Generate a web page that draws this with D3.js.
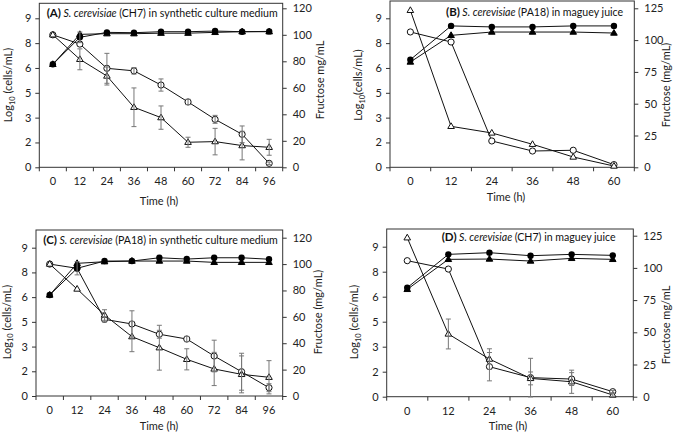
<!DOCTYPE html>
<html><head><meta charset="utf-8">
<script src="https://cdn.jsdelivr.net/npm/d3@7"></script>
<style>body{margin:0;background:#fff}svg{display:block}</style>
</head><body>
<svg id="c" width="677" height="433"></svg>
<script>
// ---------- DATA ----------
const times96 = [0, 12, 24, 36, 48, 60, 72, 84, 96];
const times60 = [0, 12, 24, 36, 48, 60];
const leftTickValues = [0, 1.5, 3, 4.5, 6, 7.5, 9];
const leftTickLabels = ["0", "2", "3", "5", "6", "8", "9"];
const rightTicks120 = [0, 20, 40, 60, 80, 100, 120];
const rightTicks125 = [0, 25, 50, 75, 100, 125];

// Panel A: S. cerevisiae (CH7) in synthetic culture medium
const A_cellsCircle = [6.22, 7.85, 8.15, 8.13, 8.19, 8.19, 8.23, 8.19, 8.21];
const A_cellsCircleErr = [0, 0.32, 0, 0, 0, 0, 0, 0, 0];
const A_cellsTri = [6.22, 8.03, 8.07, 8.07, 8.10, 8.10, 8.15, 8.19, 8.19];
const A_fruCircle = [100, 93, 74.7, 72.8, 62.1, 49.3, 36.2, 24.9, 3.0];
const A_fruCircleErr = [0, 0, 11.3, 2.5, 4.6, 2, 3, 6.3, 1];
const A_fruTri = [100, 81.5, 68.9, 45.3, 37.5, 18.9, 19.4, 16.4, 15.1];
const A_fruTriErr = [0, 7.9, 6.8, 14.6, 8.8, 3.8, 10, 10.8, 6];

// Panel B: S. cerevisiae (PA18) in maguey juice
const B_cellsCircle = [6.50, 8.54, 8.48, 8.48, 8.54, 8.54];
const B_cellsTri = [6.36, 7.97, 8.17, 8.17, 8.17, 8.11];
const B_fruCircle = [106.4, 98.5, 20.7, 12.8, 13.4, 2.1];
const B_fruTri = [123.4, 32.2, 27.0, 18.1, 8.1, 1.0];

// Panel C: S. cerevisiae (PA18) in synthetic culture medium
const C_cellsCircle = [6.13, 7.75, 8.19, 8.19, 8.39, 8.31, 8.39, 8.39, 8.30];
const C_cellsCircleErr = [0, 0.4, 0, 0, 0, 0, 0, 0, 0];
const C_cellsTri = [6.13, 8.05, 8.15, 8.19, 8.19, 8.19, 8.11, 8.11, 8.11];
const C_fruCircle = [100, 96.8, 58.1, 54.6, 46.8, 43.2, 30.3, 18.4, 6.3];
const C_fruCircleErr = [0, 0, 2, 10, 3, 2, 12, 14, 3];
const C_fruTri = [100, 81.1, 61.4, 45, 36.6, 27.8, 20.5, 16.4, 14.2];
const C_fruTriErr = [0, 0, 4, 11.4, 17, 8, 12.6, 14, 12.6];

// Panel D: S. cerevisiae (CH7) in maguey juice
const D_cellsCircle = [6.54, 8.54, 8.64, 8.46, 8.54, 8.48];
const D_cellsTri = [6.44, 8.24, 8.26, 8.14, 8.30, 8.24];
const D_fruCircle = [105.6, 99.1, 23.3, 14.8, 13.7, 3.9];
const D_fruCircleErr = [0, 0, 11, 15, 5, 1];
const D_fruTri = [123.4, 48.7, 29.2, 14.2, 11.6, 1.3];
const D_fruTriErr = [0, 11.6, 8, 5, 9, 1];

// ---------- DRAW ----------
const svg = d3.select("#c");
const FONT = "Lato, 'Open Sans', sans-serif";
const AX = "#333";

const panels = [
  { id: "(A)", strain: "(CH7) in synthetic culture medium", times: times96,
    cC: A_cellsCircle, cCe: A_cellsCircleErr, cT: A_cellsTri, fC: A_fruCircle, fCe: A_fruCircleErr, fT: A_fruTri, fTe: A_fruTriErr,
    rTicks: rightTicks120, rMax: 120,
    box: { l: 39.3, r: 282.7, t: 3.3, b: 167.3, l9: 18.3, rTop: 8.3 },
    title: { x: 46.7, y: 17 }, leftLabel: { x: 12, y: 85, text: " (cells/mL)" },
    rightLabel: { x: 324, y: 80, text: "Fructose mg/mL" }, xLabel: { x: 159, y: 205 } },
  { id: "(B)", strain: "(PA18) in maguey juice", times: times60,
    cC: B_cellsCircle, cT: B_cellsTri, fC: B_fruCircle, fT: B_fruTri,
    rTicks: rightTicks125, rMax: 125,
    box: { l: 390, r: 634.3, t: 1, b: 167.3, l9: 18.3, rTop: 8.3 },
    title: { x: 446, y: 15.5 }, leftLabel: { x: 362, y: 85, text: "(cells/mL)" },
    rightLabel: { x: 670, y: 85, text: "Fructose (mg/mL)" }, xLabel: { x: 506, y: 201 } },
  { id: "(C)", strain: "(PA18) in synthetic culture medium", times: times96,
    cC: C_cellsCircle, cCe: C_cellsCircleErr, cT: C_cellsTri, fC: C_fruCircle, fCe: C_fruCircleErr, fT: C_fruTri, fTe: C_fruTriErr,
    rTicks: rightTicks120, rMax: 120,
    box: { l: 36, r: 282.7, t: 230, b: 396, l9: 247.7, rTop: 237.7 },
    title: { x: 43.3, y: 244 }, leftLabel: { x: 10.5, y: 322, text: " (cells/mL)" },
    rightLabel: { x: 322, y: 312, text: "Fructose (mg/mL)" }, xLabel: { x: 159, y: 430 } },
  { id: "(D)", strain: "(CH7) in maguey juice", times: times60,
    cC: D_cellsCircle, cT: D_cellsTri, fC: D_fruCircle, fCe: D_fruCircleErr, fT: D_fruTri, fTe: D_fruTriErr,
    rTicks: rightTicks125, rMax: 125,
    box: { l: 386.7, r: 633.3, t: 229, b: 396.7, l9: 246.7, rTop: 235.7 },
    title: { x: 441.7, y: 241 }, leftLabel: { x: 358, y: 322, text: " (cells/mL)" },
    rightLabel: { x: 670, y: 325, text: "Fructose mg/mL" }, xLabel: { x: 508, y: 430 } }
];

function triPath(cx, cy) {
  const s = 6.6, h = 5.7;
  return `M${cx},${cy - h * 0.62}L${cx + s / 2},${cy + h * 0.38}L${cx - s / 2},${cy + h * 0.38}Z`;
}

panels.forEach(p => {
  const b = p.box;
  const g = svg.append("g");
  const x = d3.scaleBand().domain(p.times).range([b.l, b.r]);
  const xc = t => x(t) + x.bandwidth() / 2;
  const yL = d3.scaleLinear().domain([0, 9]).range([b.b, b.l9]);
  const yR = d3.scaleLinear().domain([0, p.rMax]).range([b.b, b.rTop]);

  // plot box
  g.append("rect").attr("x", b.l).attr("y", b.t).attr("width", b.r - b.l).attr("height", b.b - b.t)
    .attr("fill", "none").attr("stroke", AX).attr("stroke-width", 1);

  // x axis ticks at category boundaries
  const bounds = p.times.map(t => x(t)).concat([b.r]);
  g.selectAll(".xt").data(bounds).enter().append("line")
    .attr("x1", d => d).attr("x2", d => d).attr("y1", b.b).attr("y2", b.b + 4).attr("stroke", AX);
  g.selectAll(".xl").data(p.times).enter().append("text")
    .attr("x", d => xc(d)).attr("y", b.b + 18).attr("text-anchor", "middle")
    .attr("font-family", FONT).attr("font-size", 11).attr("fill", "#222").text(d => d);

  // left axis
  const la = d3.axisLeft(yL).tickValues(leftTickValues).tickSize(4).tickPadding(4)
    .tickFormat((d, i) => leftTickLabels[i]);
  const lg = g.append("g").attr("transform", `translate(${b.l},0)`).call(la);
  lg.select(".domain").remove();
  lg.selectAll("line").attr("stroke", AX);
  lg.selectAll("text").attr("font-family", FONT).attr("font-size", 11).attr("fill", "#222");

  // right axis
  const ra = d3.axisRight(yR).tickValues(p.rTicks).tickSize(4).tickPadding(6);
  const rg = g.append("g").attr("transform", `translate(${b.r},0)`).call(ra);
  rg.select(".domain").remove();
  rg.selectAll("line").attr("stroke", AX);
  rg.selectAll("text").attr("font-family", FONT).attr("font-size", 11).attr("fill", "#222");

  // lines
  const line = (ys, yv) => d3.line().x((d, i) => xc(p.times[i])).y(d => ys(d))(yv);
  [[yR, p.fC], [yR, p.fT], [yL, p.cT], [yL, p.cC]].forEach(([ys, v]) => {
    g.append("path").attr("d", line(ys, v)).attr("fill", "none").attr("stroke", "#111").attr("stroke-width", 1);
  });

  // error bars
  function errBars(ys, v, e) {
    if (!e) return;
    v.forEach((d, i) => {
      if (!e[i]) return;
      const cx = xc(p.times[i]);
      const y1 = ys(d - e[i]), y2 = ys(d + e[i]);
      g.append("line").attr("x1", cx).attr("x2", cx).attr("y1", y1).attr("y2", y2).attr("stroke", "#777").attr("stroke-width", 1);
      [y1, y2].forEach(yy => g.append("line").attr("x1", cx - 2.5).attr("x2", cx + 2.5).attr("y1", yy).attr("y2", yy).attr("stroke", "#777"));
    });
  }

  // markers
  g.selectAll(null).data(p.fC).enter().append("circle")
    .attr("cx", (d, i) => xc(p.times[i])).attr("cy", d => yR(d)).attr("r", 3.1)
    .attr("fill", "#fff").attr("stroke", "#111").attr("stroke-width", 1);
  g.selectAll(null).data(p.fT).enter().append("path")
    .attr("d", (d, i) => triPath(xc(p.times[i]), yR(d)))
    .attr("fill", "#fff").attr("stroke", "#111").attr("stroke-width", 1);
  errBars(yR, p.fC, p.fCe);
  errBars(yR, p.fT, p.fTe);
  g.selectAll(null).data(p.cT).enter().append("path")
    .attr("d", (d, i) => triPath(xc(p.times[i]), yL(d)))
    .attr("fill", "#000").attr("stroke", "#000");
  g.selectAll(null).data(p.cC).enter().append("circle")
    .attr("cx", (d, i) => xc(p.times[i])).attr("cy", d => yL(d)).attr("r", 3.2)
    .attr("fill", "#000");
  errBars(yL, p.cC, p.cCe);

  // title
  const t = g.append("text").attr("x", p.title.x).attr("y", p.title.y)
    .attr("font-family", FONT).attr("font-size", 10.6).attr("fill", "#111");
  t.append("tspan").attr("font-weight", "bold").attr("font-size", 11.5).text(p.id);
  t.append("tspan").attr("font-style", "italic").text(" S. cerevisiae ");
  t.append("tspan").text(p.strain);

  // x label
  g.append("text").attr("x", p.xLabel.x).attr("y", p.xLabel.y).attr("text-anchor", "middle")
    .attr("font-family", FONT).attr("font-size", 11).attr("fill", "#222").text("Time (h)");

  // left label
  const ll = g.append("text").attr("transform", `translate(${p.leftLabel.x},${p.leftLabel.y}) rotate(-90)`)
    .attr("text-anchor", "middle").attr("font-family", FONT).attr("font-size", 11).attr("fill", "#222");
  ll.append("tspan").text("Log");
  ll.append("tspan").attr("font-size", 7.5).attr("dy", 2.5).text("10");
  ll.append("tspan").attr("dy", -2.5).text(p.leftLabel.text);

  // right label
  g.append("text").attr("transform", `translate(${p.rightLabel.x},${p.rightLabel.y}) rotate(-90)`)
    .attr("text-anchor", "middle").attr("font-family", FONT).attr("font-size", 11).attr("fill", "#222")
    .text(p.rightLabel.text);
});
</script>
</body></html>
